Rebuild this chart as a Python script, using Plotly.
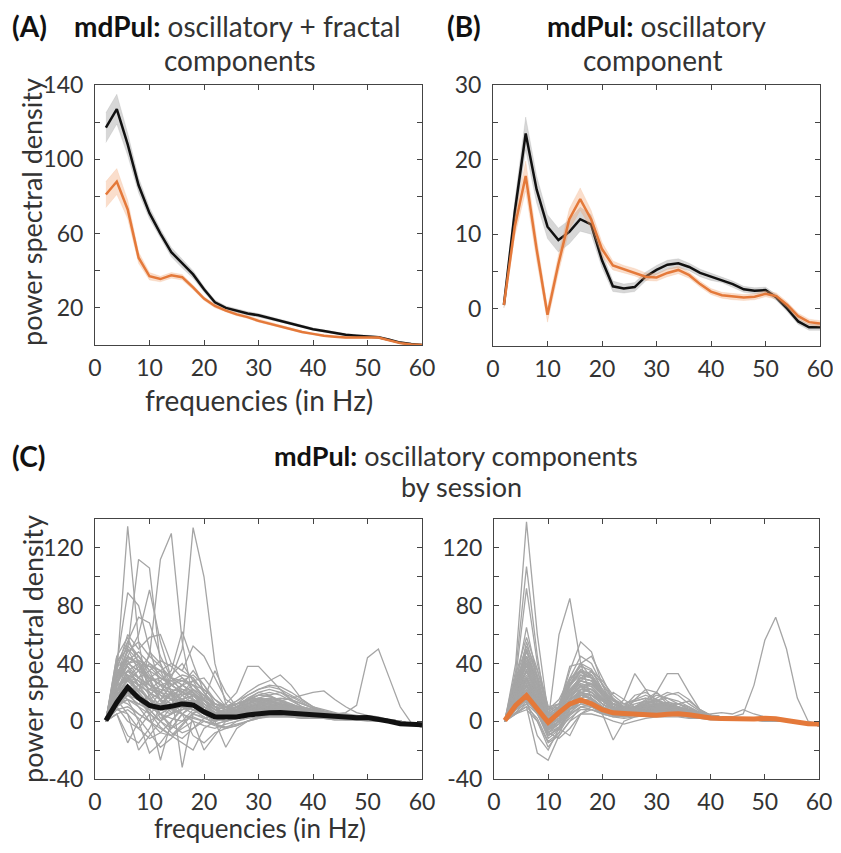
import plotly.graph_objects as go

freqs = list(range(2, 62, 2))

# Panel A: oscillatory + fractal (mean and SEM)
a_black = [117, 127, 108, 86, 71, 60, 50, 44, 38, 30, 23, 20, 18.5, 17, 16, 14.5, 13, 11.5, 10, 8.5, 7.5, 6.5, 5.5, 5, 4.5, 4.2, 2.8, 1.3, 0.5, 0]
a_black_sem = [8, 8, 6, 4, 3, 2.5, 2.5, 2.5, 2, 1.5, 1.2, 1, 1, 1, 1, 0.9, 0.9, 0.8, 0.8, 0.7, 0.7, 0.6, 0.6, 0.6, 0.6, 0.6, 0.5, 0.5, 0.5, 0.5]
a_orange = [81, 88, 73, 47, 37, 35.5, 37.5, 36.5, 31, 25, 21, 18.5, 16.5, 15, 13, 11.5, 10, 8.5, 7, 6, 5, 4.5, 4, 4, 4, 4, 2.5, 1, 0.3, 0]
a_orange_sem = [7, 7, 5, 3, 2, 1.5, 1.5, 1.5, 1.2, 1, 1, 0.8, 0.8, 0.7, 0.7, 0.6, 0.6, 0.6, 0.5, 0.5, 0.5, 0.5, 0.5, 0.5, 0.5, 0.5, 0.5, 0.5, 0.5, 0.5]

# Panel B: oscillatory component (mean and SEM)
b_black = [0.5, 13, 23.5, 16, 11, 9.2, 10.3, 12, 11.3, 6.5, 3, 2.7, 2.9, 4.3, 5.2, 5.9, 6.1, 5.6, 4.8, 4.3, 3.9, 3.3, 2.6, 2.4, 2.5, 1.5, 0, -1.7, -2.5, -2.5]
b_black_sem = [0.4, 1.5, 2.2, 1.8, 1.6, 1.6, 1.6, 1.6, 1.3, 1, 0.7, 0.6, 0.6, 0.6, 0.6, 0.6, 0.6, 0.5, 0.5, 0.5, 0.4, 0.4, 0.4, 0.4, 0.4, 0.4, 0.4, 0.4, 0.4, 0.4]
b_orange = [0.5, 11, 17.8, 8, -0.8, 6, 12, 14.7, 12, 8, 5.8, 5.3, 4.9, 4.3, 4.2, 4.8, 5.2, 4.5, 3.3, 2.3, 1.8, 1.6, 1.5, 1.6, 2, 1.7, 0.5, -1, -1.8, -2]
b_orange_sem = [0.4, 1.3, 2, 1.5, 1, 1.2, 1.4, 1.5, 1.2, 0.9, 0.6, 0.5, 0.5, 0.5, 0.5, 0.5, 0.5, 0.4, 0.4, 0.4, 0.4, 0.4, 0.4, 0.4, 0.4, 0.4, 0.4, 0.4, 0.4, 0.4]

# Panel C: per-session oscillatory components
sessions_left = [
    [0, 35, 135, 55, 15, 2, 5, 12, 15, 8, 2, 3, 6, 9, 10, 9, 7, 6, 5, 4, 3, 3, 2, 2, 2, 1, 0, -1, -2, -3],
    [1, 25, 40, 35, 45, 112, 130, 55, 15, 5, 0, 2, 4, 7, 9, 8, 6, 5, 4, 3, 3, 2, 2, 1, 1, 1, 0, -1, -2, -3],
    [0, 20, 35, 30, 25, 20, 30, 50, 134, 100, 40, 12, 6, 8, 10, 9, 7, 6, 5, 4, 3, 2, 2, 2, 1, 1, 0, -1, -2, -3],
    [2, 30, 50, 112, 106, 40, 20, 15, 10, 5, 3, 5, 8, 10, 12, 10, 8, 6, 5, 4, 4, 3, 2, 2, 2, 1, 0, -1, -2, -3],
    [0, 25, 45, 60, 91, 55, 30, 20, 15, 8, 4, 6, 8, 11, 13, 12, 10, 8, 6, 5, 4, 3, 3, 2, 2, 1, 0, -1, -2, -3],
    [1, 40, 89, 80, 50, 25, 15, 12, 18, 10, 5, 7, 10, 12, 14, 12, 10, 8, 6, 5, 4, 3, 3, 2, 2, 1, 0, -1, -2, -3],
    [0, 30, 55, 72, 68, 45, 30, 25, 20, 12, 6, 8, 12, 15, 16, 14, 11, 9, 7, 5, 4, 4, 3, 3, 2, 2, 1, -1, -2, -4],
    [1, 15, 30, 25, 20, 15, 20, 25, 20, 10, 5, 5, 7, 9, 10, 9, 8, 7, 6, 5, 5, 5, 6, 11, 44, 50, 30, 10, -1, -3],
    [0, 20, 40, 45, 35, 30, 25, 20, 18, 15, 10, 12, 20, 38, 38, 30, 22, 15, 10, 8, 6, 5, 4, 3, 3, 2, 1, 0, -2, -3],
    [1, 18, 30, 28, 22, 20, 25, 30, 25, 15, 8, 10, 14, 20, 25, 28, 32, 25, 15, 10, 8, 6, 4, 3, 3, 2, 1, 0, -2, -3],
    [0, 22, 35, 40, 38, 30, 28, 22, 20, 12, 6, 8, 10, 12, 14, 15, 14, 16, 18, 20, 21, 15, 10, 6, 4, 3, 1, 0, -2, -3],
    [0, 5, -10, -15, -5, 10, 20, -32, 5, 10, 5, 2, 3, 5, 6, 6, 5, 4, 3, 3, 2, 2, 2, 1, 1, 0, 0, -1, -2, -3],
    [0, 10, 0, -5, 5, -27, 0, 10, 15, 8, 3, 5, 7, 9, 10, 9, 8, 6, 5, 4, 3, 3, 2, 2, 1, 1, 0, -1, -2, -3],
    [0, 15, 5, -20, -10, 0, 10, 15, 10, 5, 0, 3, 5, 7, 8, 7, 6, 5, 4, 3, 3, 2, 2, 1, 1, 1, 0, -1, -2, -3],
    [1, 20, 15, 0, -22, -15, -5, 5, 0, -20, -10, 0, 3, 5, 6, 6, 5, 4, 3, 3, 2, 2, 2, 1, 1, 0, 0, -1, -2, -3],
    [0, 10, 20, 10, 0, -5, -10, -15, -20, -5, 0, -18, -5, 0, 3, 4, 4, 3, 3, 2, 2, 2, 1, 1, 1, 0, 0, -1, -2, -3],
    [0, 30, 45, 40, 30, 35, 40, 35, 52, 45, 30, 15, 10, 12, 15, 14, 12, 10, 8, 6, 5, 4, 3, 3, 2, 2, 1, 0, -2, -3],
    [2, 35, 60, 50, 58, 60, 40, 35, 30, 20, 12, 10, 12, 15, 18, 17, 15, 12, 9, 7, 5, 4, 4, 3, 2, 2, 1, 0, -2, -4],
    [0, 28, 40, 35, 30, 28, 35, 62, 40, 20, 10, 8, 10, 13, 15, 14, 12, 10, 8, 6, 5, 4, 3, 2, 2, 1, 0, -1, -2, -3],
    [1, 25, 30, 25, 20, 15, 12, 15, 18, 15, 35, 20, 10, 8, 10, 9, 8, 7, 6, 5, 4, 3, 3, 2, 2, 1, 0, -1, -2, -3],
    [0, 15, 25, 20, 12, 8, 5, 8, 10, 6, 2, 4, 6, 8, 9, 9, 8, 7, 6, 5, 4, 3, 3, 2, 2, 1, 0, -1, -2, -3],
    [0, 12, 18, 15, 10, 5, 2, 0, 3, 0, -3, -5, 0, 3, 5, 5, 5, 4, 4, 3, 3, 2, 2, 1, 1, 1, 0, -1, -2, -3],
    [0, 20, 28, 22, 15, 12, 10, 12, 14, 10, 5, 3, 5, 8, 10, 12, 12, 10, 8, 6, 5, 4, 3, 2, 2, 1, 0, -1, -2, -3],
    [1, 40, 55, 45, 35, 20, 15, 25, 35, 25, 12, 8, 10, 14, 18, 20, 18, 14, 10, 8, 6, 5, 4, 3, 2, 2, 1, 0, -2, -3],
    [0, 45, 30, 20, 48, 40, 25, 20, 15, 10, 5, 5, 8, 10, 12, 11, 10, 8, 6, 5, 4, 3, 3, 2, 2, 1, 0, -1, -2, -3],
    [0, 8, 10, 5, 0, -8, -10, -5, 0, -3, -5, -2, 0, 2, 3, 3, 3, 3, 2, 2, 2, 1, 1, 1, 1, 0, 0, -1, -2, -3],
    [0, 25, 50, 42, 30, 15, 8, 5, 10, 8, 3, 5, 10, 15, 20, 22, 20, 15, 12, 9, 7, 5, 4, 3, 2, 2, 1, 0, -2, -3],
    [1, 18, 22, 30, 40, 35, 20, 10, 5, 2, 0, 2, 4, 6, 8, 10, 12, 11, 10, 8, 6, 5, 4, 3, 2, 1, 0, -1, -2, -3],
    [0, 5, -15, 0, 10, 20, 15, 5, -10, -15, -8, -5, -3, 0, 2, 3, 3, 3, 2, 2, 2, 1, 1, 1, 0, 0, 0, -1, -2, -3],
    [0, 32, 48, 55, 45, 38, 30, 25, 28, 22, 15, 10, 8, 10, 12, 12, 11, 9, 8, 7, 6, 5, 5, 4, 3, 2, 1, 0, -2, -4],
    [0, 22, 25, 18, 8, 0, -5, 5, 12, 18, 10, 2, 4, 6, 8, 8, 7, 6, 5, 4, 3, 3, 2, 2, 1, 1, 0, -1, -2, -3],
    [1, 38, 42, 30, 22, 28, 18, 10, 8, 6, 4, 6, 8, 12, 16, 18, 20, 17, 13, 9, 6, 4, 3, 2, 2, 1, 0, -1, -2, -3],
    [0, 28, 38, 30, 25, 22, 20, 18, 22, 15, 8, 6, 8, 10, 11, 10, 9, 8, 7, 6, 5, 4, 3, 3, 2, 1, 0, -1, -2, -3],
    [1, 33, 45, 38, 28, 18, 12, 10, 14, 12, 6, 4, 6, 9, 12, 13, 12, 10, 8, 6, 5, 4, 3, 2, 2, 1, 0, -1, -2, -3],
    [0, 18, 28, 35, 30, 25, 28, 32, 30, 20, 10, 5, 4, 6, 8, 9, 9, 8, 7, 6, 5, 4, 3, 2, 2, 1, 0, -1, -2, -3],
    [0, 12, 15, 10, 5, 12, 18, 22, 18, 10, 4, 2, 3, 5, 7, 8, 8, 7, 6, 5, 4, 3, 3, 2, 1, 1, 0, -1, -2, -3],
    [1, 42, 50, 35, 20, 10, 8, 12, 15, 12, 8, 6, 8, 12, 15, 16, 14, 12, 9, 7, 5, 4, 3, 3, 2, 1, 0, -1, -2, -3],
    [0, 24, 32, 28, 18, 5, -5, 0, 8, 5, 0, 3, 6, 10, 12, 11, 10, 8, 6, 5, 4, 3, 3, 2, 2, 1, 0, -1, -2, -3],
    [0, 15, 22, 18, 12, 10, 15, 20, 25, 22, 15, 8, 5, 4, 5, 6, 7, 6, 5, 4, 4, 3, 2, 2, 1, 1, 0, -1, -2, -3],
    [1, 20, 35, 25, 15, 20, 32, 40, 28, 15, 5, 0, 2, 5, 8, 10, 10, 9, 8, 6, 5, 4, 3, 2, 2, 1, 0, -1, -2, -3],
    [0, 30, 42, 48, 40, 32, 25, 20, 15, 10, 6, 5, 7, 9, 10, 10, 9, 8, 7, 6, 5, 4, 3, 3, 2, 1, 0, -1, -2, -3],
    [0, 8, 5, -5, -12, -8, 0, 8, 12, 8, 2, 0, 2, 4, 6, 7, 7, 6, 5, 4, 3, 3, 2, 2, 1, 1, 0, -1, -2, -3],
    [0, 18, 25, 15, 5, 0, 5, 15, 22, 18, 10, 5, 5, 8, 12, 15, 16, 15, 12, 9, 7, 5, 4, 3, 2, 1, 0, -1, -2, -3],
    [1, 35, 40, 42, 38, 35, 30, 28, 25, 18, 12, 10, 12, 14, 15, 14, 12, 10, 8, 7, 6, 5, 4, 3, 2, 2, 1, 0, -2, -3],
    [0, 10, 18, 22, 15, 5, -3, -8, -5, 0, -2, 0, 3, 5, 7, 8, 7, 6, 5, 4, 3, 3, 2, 2, 1, 1, 0, -1, -2, -3],
    [0, 25, 28, 20, 10, 12, 20, 25, 20, 12, 6, 6, 10, 16, 20, 18, 14, 10, 8, 6, 5, 4, 3, 2, 2, 1, 0, -1, -2, -3],
    [0, 15, 30, 38, 25, 15, 10, 5, 2, 0, -2, -4, -2, 0, 2, 4, 5, 5, 4, 4, 3, 3, 2, 2, 1, 1, 0, -1, -2, -3],
    [1, 45, 58, 40, 25, 20, 18, 15, 12, 8, 5, 5, 6, 8, 9, 9, 8, 7, 6, 5, 4, 4, 3, 2, 2, 1, 0, -1, -2, -3],
    [0, 20, 18, 12, 8, 15, 25, 28, 32, 25, 15, 10, 12, 15, 18, 17, 14, 11, 8, 6, 5, 4, 3, 2, 2, 1, 0, -1, -2, -3],
    [0, 12, 20, 15, 8, 0, -8, -12, -5, 2, 4, 5, 6, 8, 9, 9, 8, 7, 6, 5, 4, 3, 2, 2, 1, 1, 0, -1, -2, -3],
    [0, 28, 35, 30, 35, 42, 38, 30, 22, 15, 8, 6, 8, 10, 12, 12, 11, 10, 9, 7, 6, 5, 4, 3, 2, 2, 1, 0, -2, -3],
    [1, 22, 30, 22, 15, 10, 8, 10, 12, 10, 6, 8, 12, 18, 22, 24, 22, 18, 14, 10, 7, 5, 4, 3, 2, 1, 0, -1, -2, -3],
    [0, 15, 12, 5, 0, 5, 10, 12, 8, 3, -2, -5, -3, 0, 3, 5, 6, 6, 5, 5, 4, 3, 3, 2, 1, 1, 0, -1, -2, -3],
    [0, 38, 52, 45, 32, 25, 22, 20, 18, 14, 10, 8, 9, 11, 13, 14, 13, 11, 9, 7, 6, 5, 4, 3, 2, 2, 1, 0, -2, -3],
    [0, 10, 15, 12, 18, 25, 22, 15, 10, 5, 2, 3, 5, 7, 8, 9, 9, 8, 7, 6, 5, 4, 3, 2, 2, 1, 0, -1, -2, -3],
    [1, 30, 38, 25, 12, 8, 12, 20, 28, 30, 20, 10, 6, 6, 8, 9, 9, 8, 7, 6, 5, 4, 3, 2, 2, 1, 0, -1, -2, -3],
    [0, 5, 8, 2, -8, -18, -12, -3, 5, 3, -2, 0, 2, 4, 5, 6, 6, 5, 5, 4, 3, 3, 2, 2, 1, 1, 0, -1, -2, -3],
    [0, 20, 32, 28, 22, 18, 15, 15, 18, 16, 12, 10, 14, 18, 22, 25, 24, 20, 15, 10, 7, 5, 4, 3, 2, 1, 0, -1, -2, -3],
    [0, 26, 44, 40, 28, 14, 6, 8, 12, 10, 5, 3, 4, 6, 8, 8, 8, 7, 6, 5, 4, 3, 3, 2, 2, 1, 0, -1, -2, -3],
    [1, 14, 20, 25, 28, 30, 26, 18, 12, 6, 2, 2, 4, 6, 8, 9, 10, 10, 9, 8, 6, 5, 4, 3, 2, 1, 0, -1, -2, -3],
    [0, 35, 32, 20, 10, 5, 10, 18, 20, 14, 8, 6, 10, 14, 16, 15, 12, 9, 7, 5, 4, 4, 3, 3, 2, 1, 0, -1, -2, -3],
    [0, 18, 24, 16, 6, -4, -10, -2, 6, 8, 5, 4, 5, 7, 9, 10, 10, 9, 8, 7, 6, 4, 3, 2, 2, 1, 0, -1, -2, -3],
]

sessions_right = [
    [0, 40, 138, 60, 5, 0, 5, 10, 8, 5, 3, 4, 5, 6, 6, 5, 4, 3, 2, 2, 1, 1, 1, 1, 1, 0, 0, -1, -2, -2],
    [1, 35, 107, 45, 0, -5, 8, 15, 12, 8, 5, 5, 6, 7, 7, 6, 5, 4, 3, 2, 2, 1, 1, 1, 1, 0, 0, -1, -2, -3],
    [0, 30, 92, 40, 10, 5, 12, 20, 15, 10, 6, 5, 6, 7, 8, 7, 5, 4, 3, 2, 2, 2, 1, 1, 1, 0, 0, -1, -2, -2],
    [0, 25, 65, 30, -5, 0, 10, 18, 15, 10, 6, 5, 6, 7, 7, 6, 5, 4, 3, 2, 2, 1, 1, 1, 1, 1, 0, -1, -2, -3],
    [1, 20, 15, 5, 0, 60, 85, 40, 15, 8, 5, 4, 5, 6, 6, 5, 4, 3, 3, 2, 2, 1, 1, 1, 1, 0, 0, -1, -2, -2],
    [0, 10, 20, 10, 0, 5, 15, 20, 15, 10, 6, 5, 5, 5, 5, 5, 4, 4, 3, 3, 3, 3, 5, 25, 56, 72, 50, 16, 0, -2],
    [0, 15, 50, 25, 5, 10, 35, 55, 48, 25, 10, 6, 5, 6, 7, 6, 5, 4, 3, 2, 2, 1, 1, 1, 1, 0, 0, -1, -2, -3],
    [0, 20, 55, 30, 0, 5, 25, 40, 45, 30, 15, 8, 6, 7, 8, 7, 5, 4, 3, 2, 2, 2, 1, 1, 1, 0, 0, -1, -2, -2],
    [0, 10, 25, 15, 0, 5, 15, 20, 18, 12, 8, 15, 33, 22, 10, 8, 6, 4, 3, 2, 2, 1, 1, 1, 1, 0, 0, -1, -2, -2],
    [0, 12, 30, 18, 2, 8, 18, 22, 20, 14, 8, 6, 8, 12, 20, 33, 33, 20, 8, 4, 3, 2, 1, 1, 1, 0, 0, -1, -2, -3],
    [0, 5, 10, -22, -27, -10, 0, 10, 12, 8, 5, 4, 5, 6, 6, 5, 4, 3, 3, 2, 2, 1, 1, 1, 1, 0, 0, -1, -2, -2],
    [0, 8, 15, -10, -20, -5, -10, 5, 10, 5, -13, 0, 3, 4, 5, 5, 4, 3, 2, 2, 1, 1, 1, 1, 0, 0, 0, -1, -2, -2],
    [0, 15, 35, 20, -5, 5, 20, 30, 28, 18, 10, 8, 10, 12, 12, 10, 8, 6, 4, 3, 2, 2, 2, 1, 1, 1, 0, -1, -2, -3],
    [1, 25, 45, 30, 5, 10, 28, 38, 35, 22, 12, 8, 8, 10, 10, 9, 7, 5, 4, 3, 2, 2, 1, 1, 1, 1, 0, -1, -2, -3],
    [0, 18, 40, 20, -8, 0, 15, 25, 22, 15, 8, 6, 15, 22, 20, 12, 8, 5, 4, 3, 2, 2, 1, 1, 1, 0, 0, -1, -2, -2],
    [0, 10, 20, 8, -10, -5, 5, 15, 15, 10, 6, 5, 6, 8, 14, 18, 20, 15, 8, 4, 3, 2, 1, 1, 1, 0, 0, -1, -2, -3],
    [0, 20, 30, 15, 0, 10, 25, 32, 30, 20, 12, 10, 12, 14, 12, 10, 8, 6, 4, 3, 2, 2, 2, 1, 1, 1, 0, -1, -2, -2],
    [1, 5, 8, 0, -15, -10, 0, 5, 5, 3, 0, -2, 0, 2, 3, 3, 3, 2, 2, 1, 1, 1, 1, 1, 0, 0, 0, -1, -2, -2],
    [0, 30, 52, 35, 10, 12, 30, 45, 40, 25, 15, 10, 8, 8, 10, 8, 6, 5, 4, 3, 3, 2, 2, 2, 1, 1, 0, -1, -2, -3],
    [0, 12, 22, 10, -5, 0, 12, 18, 16, 10, 20, 15, 10, 15, 20, 14, 10, 6, 4, 3, 2, 2, 1, 1, 1, 0, 0, -1, -2, -2],
    [0, 8, 12, 5, -10, -5, 2, 8, 8, 5, 3, 2, 3, 4, 5, 5, 4, 3, 3, 2, 2, 1, 1, 1, 1, 0, 0, -1, -2, -2],
    [0, 22, 48, 30, 0, 5, 20, 28, 26, 18, 10, 8, 10, 12, 14, 16, 14, 10, 6, 4, 3, 3, 2, 2, 1, 1, 0, -1, -2, -3],
    [0, 15, 28, 12, -3, 10, 38, 40, 30, 18, 10, 6, 5, 6, 7, 8, 8, 6, 4, 3, 2, 2, 1, 1, 1, 0, 0, -1, -2, -3],
    [0, 18, 35, 18, 2, 8, 22, 30, 35, 28, 18, 12, 10, 10, 8, 6, 5, 4, 3, 3, 2, 2, 2, 1, 1, 1, 0, -1, -2, -2],
    [0, 10, 18, 5, -8, -12, -5, 5, 8, 6, 4, 4, 5, 6, 7, 7, 6, 5, 4, 3, 2, 2, 1, 1, 1, 0, 0, -1, -2, -2],
    [1, 28, 40, 25, 8, 15, 30, 35, 30, 22, 15, 12, 15, 18, 15, 12, 10, 8, 6, 4, 3, 2, 2, 1, 1, 1, 0, -1, -2, -3],
    [0, 5, 12, 0, -18, -8, 8, 15, 12, 8, 5, 4, 4, 5, 5, 4, 4, 3, 3, 2, 2, 2, 1, 1, 1, 0, 0, -1, -2, -2],
    [0, 12, 25, 10, -2, 2, 10, 15, 12, 8, 6, 10, 18, 20, 15, 10, 12, 14, 8, 4, 3, 2, 2, 1, 1, 0, 0, -1, -2, -3],
    [0, 8, 20, 12, 2, 5, 8, 12, 10, 6, 4, 3, 4, 5, 6, 6, 5, 5, 4, 5, 6, 5, 8, 5, 3, 2, 1, 0, -2, -3],
    [0, 20, 45, 25, 0, 8, 25, 35, 32, 20, 12, 8, 8, 10, 12, 12, 10, 7, 5, 3, 3, 2, 2, 1, 1, 1, 0, -1, -2, -3],
    [0, 22, 38, 20, 2, 6, 18, 26, 24, 16, 10, 8, 8, 9, 10, 9, 7, 5, 4, 3, 2, 2, 1, 1, 1, 0, 0, -1, -2, -2],
    [0, 16, 30, 14, -4, 2, 14, 22, 22, 15, 9, 7, 7, 8, 9, 8, 6, 5, 4, 3, 2, 2, 1, 1, 1, 0, 0, -1, -2, -3],
    [1, 26, 42, 22, -2, 4, 20, 32, 30, 20, 12, 9, 9, 10, 10, 9, 7, 5, 4, 3, 2, 2, 1, 1, 1, 0, 0, -1, -2, -2],
    [0, 12, 24, 10, -6, -2, 8, 14, 14, 10, 7, 6, 6, 7, 8, 7, 6, 5, 4, 3, 2, 2, 1, 1, 1, 0, 0, -1, -2, -2],
    [0, 20, 35, 22, 5, 10, 22, 28, 25, 18, 12, 10, 10, 11, 12, 11, 9, 7, 5, 4, 3, 2, 2, 1, 1, 1, 0, -1, -2, -3],
    [0, 8, 16, 6, -12, -6, 6, 12, 12, 8, 5, 5, 6, 7, 8, 8, 7, 5, 4, 3, 2, 2, 1, 1, 1, 0, 0, -1, -2, -2],
    [1, 30, 45, 28, 6, 12, 26, 34, 30, 20, 12, 8, 8, 9, 10, 10, 8, 6, 4, 3, 2, 2, 1, 1, 1, 0, 0, -1, -2, -3],
    [0, 14, 26, 12, -2, 4, 16, 24, 26, 20, 14, 10, 9, 9, 10, 10, 9, 7, 5, 3, 2, 2, 1, 1, 1, 0, 0, -1, -2, -2],
    [0, 18, 32, 18, 0, 0, 10, 20, 22, 16, 10, 8, 9, 12, 16, 20, 18, 12, 7, 4, 3, 2, 1, 1, 1, 0, 0, -1, -2, -3],
    [0, 10, 22, 12, -4, 6, 24, 34, 30, 18, 10, 6, 6, 7, 8, 8, 7, 5, 4, 3, 2, 2, 1, 1, 1, 0, 0, -1, -2, -2],
    [0, 24, 40, 24, 4, 8, 18, 24, 22, 16, 12, 12, 14, 16, 14, 11, 9, 7, 5, 4, 3, 2, 2, 1, 1, 1, 0, -1, -2, -3],
    [1, 6, 10, 2, -14, -8, 4, 10, 10, 7, 4, 3, 4, 5, 6, 6, 5, 4, 3, 2, 2, 1, 1, 1, 0, 0, 0, -1, -2, -2],
    [0, 16, 28, 16, 2, 8, 20, 26, 24, 16, 10, 8, 10, 14, 18, 16, 12, 8, 5, 4, 3, 2, 2, 1, 1, 0, 0, -1, -2, -2],
    [0, 20, 36, 20, -2, 2, 16, 28, 34, 26, 16, 10, 8, 8, 9, 9, 8, 6, 4, 3, 2, 2, 1, 1, 1, 0, 0, -1, -2, -3],
    [0, 12, 20, 8, -6, 0, 12, 20, 18, 12, 8, 10, 14, 16, 13, 10, 8, 6, 5, 4, 3, 2, 1, 1, 1, 0, 0, -1, -2, -2],
    [0, 26, 50, 32, 8, 10, 22, 30, 28, 18, 10, 7, 7, 8, 9, 8, 7, 5, 4, 3, 2, 2, 1, 1, 1, 0, 0, -1, -2, -3],
    [1, 10, 18, 8, -8, -4, 8, 16, 18, 14, 9, 7, 8, 10, 12, 13, 12, 9, 6, 4, 3, 2, 1, 1, 1, 0, 0, -1, -2, -2],
    [0, 22, 34, 18, 0, 6, 18, 24, 20, 12, 6, 4, 5, 6, 7, 7, 6, 5, 4, 3, 2, 2, 1, 1, 1, 0, 0, -1, -2, -3],
    [0, 14, 30, 16, -2, 4, 18, 30, 32, 22, 14, 10, 10, 11, 12, 12, 10, 8, 6, 4, 3, 2, 2, 1, 1, 0, 0, -1, -2, -2],
    [0, 18, 28, 14, -4, 0, 10, 18, 16, 10, 6, 6, 8, 10, 12, 12, 10, 8, 6, 4, 3, 2, 1, 1, 1, 0, 0, -1, -2, -2],
    [0, 28, 44, 26, 2, 6, 20, 28, 26, 18, 12, 9, 9, 10, 11, 10, 8, 6, 4, 3, 2, 2, 1, 1, 1, 0, 0, -1, -2, -3],
    [0, 6, 14, 6, -8, -2, 10, 18, 16, 10, 6, 6, 8, 12, 14, 12, 9, 6, 4, 3, 2, 2, 1, 1, 1, 0, 0, -1, -2, -2],
    [1, 20, 30, 16, 0, 10, 26, 36, 32, 20, 12, 8, 7, 8, 8, 8, 7, 5, 4, 3, 2, 2, 1, 1, 1, 0, 0, -1, -2, -3],
    [0, 16, 24, 12, -2, 2, 12, 18, 18, 14, 10, 8, 8, 9, 10, 10, 9, 8, 6, 4, 3, 2, 2, 1, 1, 0, 0, -1, -2, -2],
    [0, 24, 38, 22, 4, 6, 14, 20, 18, 12, 8, 8, 10, 12, 11, 9, 7, 5, 4, 3, 2, 2, 1, 1, 1, 0, 0, -1, -2, -2],
    [0, 12, 28, 14, -6, -2, 10, 22, 26, 20, 12, 8, 7, 8, 9, 9, 8, 6, 4, 3, 2, 2, 1, 1, 1, 0, 0, -1, -2, -3],
    [0, 20, 42, 26, 4, 8, 22, 30, 28, 18, 10, 6, 6, 8, 10, 12, 12, 10, 6, 4, 3, 2, 1, 1, 1, 0, 0, -1, -2, -2],
    [1, 14, 22, 10, -4, 2, 14, 22, 20, 14, 9, 8, 10, 13, 14, 12, 9, 6, 4, 3, 2, 2, 1, 1, 1, 0, 0, -1, -2, -2],
    [0, 32, 58, 36, 8, 12, 28, 40, 36, 22, 12, 8, 8, 9, 10, 9, 7, 5, 4, 3, 2, 2, 1, 1, 1, 0, 0, -1, -2, -3],
    [0, 10, 20, 10, -10, -4, 8, 18, 20, 15, 10, 8, 8, 9, 10, 10, 9, 7, 5, 4, 3, 2, 1, 1, 1, 0, 0, -1, -2, -2],
]

BLACK = "#111111"
ORANGE = "#E4793A"
GRAY_BAND = "rgba(140,140,140,0.35)"
ORANGE_BAND = "rgba(240,160,110,0.35)"
SESSION_GRAY = "rgb(165,165,165)"
FONT = "Lato"
TXT = "#333333"

fig = go.Figure()


def band(mean, sem, xa, ya, fillcolor, linecolor, width):
    upper = [m + s for m, s in zip(mean, sem)]
    lower = [m - s for m, s in zip(mean, sem)]
    fig.add_trace(go.Scatter(x=freqs, y=upper, mode="lines", line=dict(width=0.5, color=fillcolor),
                             xaxis=xa, yaxis=ya, showlegend=False, hoverinfo="skip"))
    fig.add_trace(go.Scatter(x=freqs, y=lower, mode="lines", line=dict(width=0.5, color=fillcolor),
                             fill="tonexty", fillcolor=fillcolor,
                             xaxis=xa, yaxis=ya, showlegend=False, hoverinfo="skip"))
    fig.add_trace(go.Scatter(x=freqs, y=mean, mode="lines", line=dict(width=width, color=linecolor),
                             xaxis=xa, yaxis=ya, showlegend=False))


# Panel A
band(a_black, a_black_sem, "x", "y", GRAY_BAND, BLACK, 2.5)
band(a_orange, a_orange_sem, "x", "y", ORANGE_BAND, ORANGE, 2.5)
# Panel B
band(b_black, b_black_sem, "x2", "y2", GRAY_BAND, BLACK, 2.5)
band(b_orange, b_orange_sem, "x2", "y2", ORANGE_BAND, ORANGE, 2.5)

# Panel C
for s in sessions_left:
    fig.add_trace(go.Scatter(x=freqs, y=s, mode="lines", line=dict(width=1.3, color=SESSION_GRAY),
                             xaxis="x3", yaxis="y3", showlegend=False))
fig.add_trace(go.Scatter(x=freqs, y=b_black, mode="lines", line=dict(width=5, color=BLACK),
                         xaxis="x3", yaxis="y3", showlegend=False))
for s in sessions_right:
    fig.add_trace(go.Scatter(x=freqs, y=s, mode="lines", line=dict(width=1.3, color=SESSION_GRAY),
                             xaxis="x4", yaxis="y4", showlegend=False))
fig.add_trace(go.Scatter(x=freqs, y=b_orange, mode="lines", line=dict(width=5, color=ORANGE),
                         xaxis="x4", yaxis="y4", showlegend=False))

# the page body adds an 8px margin around the figure, so keep the figure inside the window
OFF = 8
FW, FH = 841 - 2 * OFF, 853 - 2 * OFF


def px(x):
    return (x - OFF) / FW


def py(y):
    return 1 - (y - OFF) / FH


def xdom(l, r):
    return [px(l), px(r)]


def ydom(t, b):
    return [py(b), py(t)]


axis_common = dict(showline=True, linecolor="#444444", linewidth=1, mirror="ticks",
                   ticks="inside", ticklen=5, tickcolor="#444444", showgrid=False, zeroline=False,
                   automargin=False, ticklabeloverflow="allow",
                   tickfont=dict(family=FONT, size=23, color=TXT))

xcommon = dict(tickvals=[0, 10, 20, 30, 40, 50, 60], range=[0, 60], ticklabelstandoff=2, **axis_common)
ycommon = dict(ticklabelstandoff=6, **axis_common)
c_ticks = dict(range=[-40, 140], tickvals=[-40, -20, 0, 20, 40, 60, 80, 100, 120, 140],
               ticktext=["-40", "", "0", "", "40", "", "80", "", "120", ""])

fig.update_layout(
    template="none",
    width=FW, height=FH, autosize=False,
    margin=dict(l=0, r=0, t=0, b=0, pad=0, autoexpand=False),
    paper_bgcolor="white", plot_bgcolor="white",
    xaxis=dict(domain=xdom(95, 422), anchor="y", **xcommon),
    yaxis=dict(domain=ydom(85, 345), anchor="x", range=[0, 140],
               tickvals=[20, 40, 60, 80, 100, 120, 140],
               ticktext=["20", "", "60", "", "100", "", "140"], **ycommon),
    xaxis2=dict(domain=xdom(493, 820), anchor="y2", **xcommon),
    yaxis2=dict(domain=ydom(85, 346), anchor="x2", range=[-5, 30],
                tickvals=[0, 5, 10, 15, 20, 25, 30],
                ticktext=["0", "", "10", "", "20", "", "30"], **ycommon),
    xaxis3=dict(domain=xdom(95, 422), anchor="y3", **xcommon),
    yaxis3=dict(domain=ydom(519, 779), anchor="x3", **c_ticks, **ycommon),
    xaxis4=dict(domain=xdom(494, 819), anchor="y4", **xcommon),
    yaxis4=dict(domain=ydom(519, 779), anchor="x4", **c_ticks, **ycommon),
)


def ann(text, x, y, size=28, xanchor="center", angle=0, color=TXT):
    fig.add_annotation(text=text, x=px(x), y=py(y), xref="paper", yref="paper",
                       xanchor=xanchor, yanchor="middle", showarrow=False, textangle=angle,
                       font=dict(family=FONT, size=size, color=color))


B = "<b style='color:#111'>"
ann("<b>(A)</b>", 10, 26, xanchor="left", color="#111")
ann(B + "mdPul:</b> oscillatory + fractal", 237, 26, size=28)
ann("components", 240, 60, size=28)
ann("<b>(B)</b>", 445, 26, xanchor="left", color="#111")
ann(B + "mdPul:</b> oscillatory", 657, 26, size=28)
ann("component", 652, 60, size=28)
ann("<b>(C)</b>", 10, 456, xanchor="left", color="#111")
ann(B + "mdPul:</b> oscillatory components", 456, 455, size=27)
ann("by session", 461, 486, size=27)

ann("frequencies (in Hz)", 259, 400, size=28)
ann("frequencies (in Hz)", 260, 828, size=26)
ann("power spectral density", 32, 212, size=27, angle=-90)
ann("power spectral density", 32, 649, size=27, angle=-90)

fig.write_html("out.html")
